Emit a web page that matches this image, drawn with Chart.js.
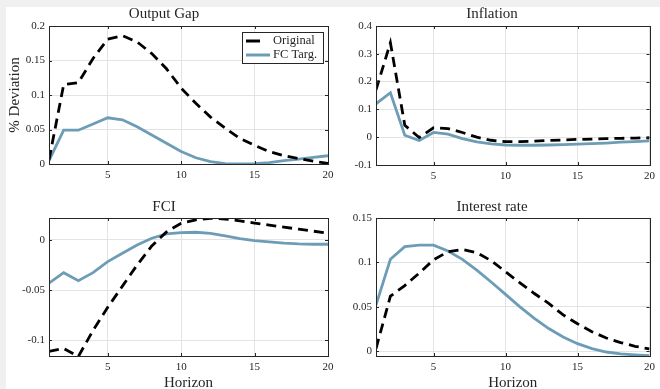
<!DOCTYPE html>
<html>
<head>
<meta charset="utf-8">
<script src="https://cdn.jsdelivr.net/npm/chart.js@4/dist/chart.umd.min.js"></script>
<style>
body{margin:0;background:#f0f0f0;width:660px;height:389px;overflow:hidden;position:relative}
#paper{position:absolute;left:6px;top:7px;right:0;bottom:0;background:#fff}
canvas{position:absolute}
</style>
</head>
<body>
<div id="paper"></div>
<canvas id="outputGap" style="left:0;top:0" width="340" height="190"></canvas>
<canvas id="inflation" style="left:330px;top:0" width="330" height="190"></canvas>
<canvas id="fci" style="left:0;top:190px" width="340" height="199"></canvas>
<canvas id="interest" style="left:330px;top:190px" width="330" height="199"></canvas>
<script>
const horizon = [1,2,3,4,5,6,7,8,9,10,11,12,13,14,15,16,17,18,19,20]
const xTicks = [5,10,15,20]

const outputGapOriginal = [0.006,0.115,0.118,0.153,0.181,0.186,0.177,0.160,0.138,0.110,0.088,0.068,0.052,0.037,0.027,0.018,0.012,0.008,0.004,0.001]
const outputGapFC = [0.005,0.049,0.049,0.058,0.067,0.064,0.054,0.042,0.030,0.018,0.009,0.0035,0.0005,0.0,0.0005,0.002,0.005,0.007,0.0095,0.012]

const inflationOriginal = [0.17,0.34,0.043,-0.001,0.034,0.031,0.017,0.0,-0.011,-0.016,-0.016,-0.014,-0.012,-0.010,-0.008,-0.007,-0.005,-0.004,-0.003,-0.002]
const inflationFC = [0.12,0.16,0.007,-0.012,0.017,0.011,-0.005,-0.017,-0.024,-0.028,-0.029,-0.029,-0.028,-0.027,-0.025,-0.023,-0.021,-0.018,-0.016,-0.013]

const fciOriginal = [-0.111,-0.108,-0.116,-0.090,-0.067,-0.046,-0.025,-0.006,0.008,0.0165,0.020,0.0215,0.0208,0.019,0.0168,0.0147,0.0127,0.0107,0.0087,0.0067]
const fciFC = [-0.043,-0.0326,-0.0405,-0.0326,-0.0216,-0.0133,-0.005,0.0017,0.006,0.0073,0.0076,0.0066,0.004,0.0013,-0.0007,-0.002,-0.0033,-0.004,-0.0043,-0.0043]

const interestOriginal = [0.003,0.062,0.074,0.088,0.103,0.112,0.1145,0.111,0.102,0.0895,0.077,0.065,0.054,0.041,0.031,0.022,0.015,0.0098,0.0056,0.0026]
const interestFC = [0.052,0.1035,0.1177,0.1195,0.1195,0.1128,0.1034,0.0914,0.078,0.064,0.05,0.037,0.0256,0.016,0.0086,0.003,-0.0008,-0.003,-0.004,-0.0049]

const seriesNames = ["Original", "FC Targ."]

const BLUE = "#6d9db6"
const INK = "#262626"
const serif = '"Liberation Serif", "DejaVu Serif", serif'

// box round the axes plus inward ticks, like matlab
const frame = {
    id: "frame",
    afterDatasetsDraw(chart){
        let a = chart.chartArea
        let ctx = chart.ctx
        ctx.save()
        ctx.strokeStyle = INK
        ctx.lineWidth = 1
        ctx.setLineDash([])
        ctx.strokeRect(Math.round(a.left)+0.5, Math.round(a.top)+0.5, Math.round(a.right-a.left), Math.round(a.bottom-a.top))
        ctx.beginPath()
        let x = chart.scales.x, y = chart.scales.y
        x.ticks.forEach(t => {
            let px = Math.round(x.getPixelForValue(t.value))+0.5
            ctx.moveTo(px, a.bottom); ctx.lineTo(px, a.bottom-3)
            ctx.moveTo(px, a.top); ctx.lineTo(px, a.top+3)
        })
        y.ticks.forEach(t => {
            let py = Math.round(y.getPixelForValue(t.value))+0.5
            ctx.moveTo(a.left, py); ctx.lineTo(a.left+3, py)
            ctx.moveTo(a.right, py); ctx.lineTo(a.right-3, py)
        })
        ctx.stroke()
        ctx.restore()
    }
}

const boxLegend = {
    id: "boxLegend",
    afterDraw(chart){
        let ctx = chart.ctx
        ctx.save()
        ctx.fillStyle = "#fff"
        ctx.fillRect(242.5, 32.5, 81, 31)
        ctx.strokeStyle = INK
        ctx.lineWidth = 1
        ctx.strokeRect(242.5, 32.5, 81, 31)
        ctx.lineWidth = 3
        ctx.strokeStyle = "#000"
        ctx.setLineDash([14, 12])
        ctx.beginPath(); ctx.moveTo(246, 41); ctx.lineTo(270, 41); ctx.stroke()
        ctx.setLineDash([])
        ctx.strokeStyle = BLUE
        ctx.beginPath(); ctx.moveTo(246, 55); ctx.lineTo(270, 55); ctx.stroke()
        ctx.fillStyle = INK
        ctx.font = "12.5px " + serif
        ctx.textBaseline = "middle"
        ctx.fillText(seriesNames[0], 273, 41)
        ctx.fillText(seriesNames[1], 273, 55)
        ctx.restore()
    }
}

function makePanel(id, title, original, fc, yMin, yMax, yTicks, layout){
    let plugins = [frame]
    if (layout.legend) plugins.push(boxLegend)
    return new Chart(document.getElementById(id), {
        type: "line",
        data: {
            labels: horizon,
            datasets: [
                {
                    label: seriesNames[0],
                    data: original,
                    borderColor: "#000",
                    borderWidth: 2.8,
                    borderDash: [10, 6],
                    pointRadius: 0,
                    tension: 0,
                },
                {
                    label: seriesNames[1],
                    data: fc,
                    borderColor: BLUE,
                    borderWidth: 2.8,
                    pointRadius: 0,
                    tension: 0,
                }
            ]
        },
        plugins: plugins,
        options: {
            responsive: false,
            animation: false,
            layout: {padding: {left: 0, right: layout.right, top: 0, bottom: 0}},
            plugins: {
                legend: {display: false},
                tooltip: {enabled: false},
                title: {
                    display: true,
                    text: title,
                    color: INK,
                    font: {family: serif, size: 15, weight: "normal", lineHeight: 1.2},
                    padding: {top: layout.titleTop, bottom: layout.titleBottom}
                }
            },
            scales: {
                x: {
                    type: "linear",
                    min: 1,
                    max: 20,
                    afterBuildTicks: axis => { axis.ticks = xTicks.map(v => ({value: v})) },
                    afterFit: axis => { axis.height = layout.bottom },
                    grid: {color: "#e3e3e3", drawTicks: false},
                    border: {display: false},
                    ticks: {color: INK, padding: 5, maxRotation: 0, font: {family: serif, size: 11}},
                    title: {
                        display: layout.xTitle,
                        text: "Horizon",
                        color: INK,
                        font: {family: serif, size: 15, lineHeight: 0.8},
                        padding: 0
                    }
                },
                y: {
                    min: yMin,
                    max: yMax,
                    afterBuildTicks: axis => { axis.ticks = yTicks.map(v => ({value: v})) },
                    afterFit: axis => { axis.width = layout.left },
                    grid: {color: "#e3e3e3", drawTicks: false},
                    border: {display: false},
                    ticks: {color: INK, padding: 4, font: {family: serif, size: 11}, callback: v => String(v)},
                    title: {
                        display: layout.yTitle,
                        text: "% Deviation",
                        color: INK,
                        font: {family: serif, size: 15, lineHeight: 1.2},
                        padding: {top: 6, bottom: 0}
                    }
                }
            }
        }
    })
}

makePanel("outputGap", "Output Gap", outputGapOriginal, outputGapFC, 0, 0.2, [0,0.05,0.1,0.15,0.2],
    {left: 49, right: 12, bottom: 26, titleTop: 5, titleBottom: 3, legend: true, yTitle: true, xTitle: false})
makePanel("inflation", "Inflation", inflationOriginal, inflationFC, -0.1, 0.4, [-0.1,0,0.1,0.2,0.3,0.4],
    {left: 46, right: 6, bottom: 25, titleTop: 5, titleBottom: 3, legend: false, yTitle: false, xTitle: false})
makePanel("fci", "FCI", fciOriginal, fciFC, -0.1155, 0.0218, [-0.1,-0.05,0],
    {left: 49, right: 12, bottom: 33, titleTop: 8, titleBottom: 2, legend: false, yTitle: false, xTitle: true})
makePanel("interest", "Interest rate", interestOriginal, interestFC, -0.0053, 0.15, [0,0.05,0.1,0.15],
    {left: 46, right: 6, bottom: 33, titleTop: 8, titleBottom: 2, legend: false, yTitle: false, xTitle: true})
</script>
</body>
</html>
